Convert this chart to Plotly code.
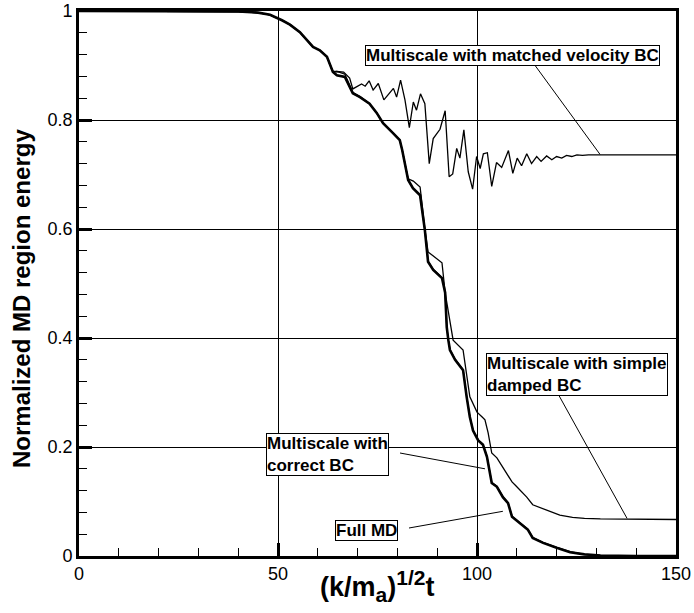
import plotly.graph_objects as go

# ---- data ----
t_full = [0, 20, 35, 40, 45, 48, 51, 53, 55.5, 57, 58.8, 60.5, 62.3, 63.8, 64.8, 66.8, 68.8, 70.6,
          73, 74.8, 76.4, 78.9, 80.6, 81.2, 82.7, 83.9, 85.7, 86.9, 87.7, 89.0, 91.2, 92.0, 92.4,
          92.8, 93.2, 94.5, 96.5, 97.4, 98.2, 99.0, 100.3, 101.5, 102.5, 103.7, 105.0, 106.5,
          107.8, 108.8, 110.8, 112.8, 114.0, 116.6, 120.0, 123.4, 127, 131, 140, 150]
v_full = [1.0, 1.0, 1.0, 0.999, 0.997, 0.993, 0.983, 0.975, 0.961, 0.948, 0.934, 0.928, 0.916,
          0.888, 0.882, 0.879, 0.849, 0.842, 0.830, 0.813, 0.794, 0.776, 0.763, 0.745, 0.690,
          0.675, 0.662, 0.598, 0.540, 0.525, 0.510, 0.483, 0.420, 0.396, 0.378, 0.360, 0.341,
          0.292, 0.255, 0.230, 0.212, 0.204, 0.182, 0.134, 0.127, 0.108, 0.097, 0.072, 0.060,
          0.048, 0.033, 0.024, 0.015, 0.007, 0.003, 0.001, 0.0, 0.0]

t_correct = [0, 20, 35, 40, 45, 48, 51, 53, 55.5, 57, 58.8, 60.5, 62.3, 63.8, 64.8, 66.8, 68.8, 70.6,
             73, 74.8, 76.4, 78.9, 80.6, 81.2, 82.7, 83.9, 85.7, 86.9, 87.7, 89.0, 91.2, 92.0, 92.4,
             92.8, 93.2, 94.5, 96.5, 97.4, 98.2, 99.0, 100.3, 101.5, 102.5, 103.7, 105.0, 106.5,
             107.8, 108.8, 110.8, 112.8, 114.0, 116.6, 120.0, 123.4, 127, 131, 140, 150]
v_correct = [1.0, 1.0, 1.0, 0.999, 0.997, 0.993, 0.983, 0.975, 0.961, 0.948, 0.934, 0.928, 0.916,
             0.888, 0.882, 0.879, 0.849, 0.842, 0.830, 0.813, 0.794, 0.776, 0.763, 0.745, 0.690,
             0.675, 0.662, 0.598, 0.541, 0.526, 0.511, 0.484, 0.421, 0.397, 0.379, 0.361, 0.342,
             0.293, 0.256, 0.231, 0.213, 0.205, 0.183, 0.135, 0.128, 0.109, 0.098, 0.073, 0.061,
             0.049, 0.034, 0.025, 0.016, 0.008, 0.003, 0.001, 0.0, 0.0]

t_damped = [0, 20, 35, 40, 45, 48, 51, 53, 55.5, 57, 58.8, 60.5, 62.3, 63.8, 64.8, 66.8, 68.8, 70.6,
            73, 74.8, 76.4, 78.9, 80.6, 81.2, 82.7, 84.0, 85.7, 86.9, 87.7, 91.2, 92.0, 94.0, 96.5,
            98.2, 100.0, 101.3, 102.0, 102.8, 103.7, 105.0, 107.0, 108.8, 110.0, 112.5, 114.0,
            117.5, 120.8, 124.0, 127.0, 131.0, 140.0, 150.0]
v_damped = [1.0, 1.0, 1.0, 0.999, 0.997, 0.993, 0.983, 0.975, 0.961, 0.948, 0.934, 0.928, 0.916,
            0.889, 0.889, 0.884, 0.851, 0.843, 0.830, 0.813, 0.794, 0.776, 0.763, 0.745, 0.692,
            0.688, 0.677, 0.600, 0.558, 0.538, 0.483, 0.396, 0.378, 0.292, 0.264, 0.255, 0.250,
            0.226, 0.189, 0.180, 0.158, 0.136, 0.127, 0.108, 0.094, 0.084, 0.075, 0.071, 0.069,
            0.068, 0.067, 0.067]

t_matched = [0, 20, 35, 40, 45, 48, 51, 53, 55.5, 57, 58.8, 60.5, 62.3, 63.8, 64.8, 66.5, 68.0, 68.8,
             69.8, 71.0, 71.9, 72.9, 73.9, 75.2, 76.6, 77.7, 79.0, 79.8, 80.8, 81.9, 83.0, 84.0,
             84.8, 85.8, 86.9, 88.0, 89.0, 90.7, 92.0, 93.0, 93.9, 94.9, 95.7, 96.7, 97.8, 98.9,
             99.9, 100.8, 101.6, 102.6, 103.7, 104.9, 106.2, 107.9, 109.0, 110.1, 111.2, 112.5,
             113.7, 115.0, 116.1, 117.5, 118.8, 120.0, 121.3, 122.5, 123.8, 125.1, 126.5, 128.0,
             150.0]
v_matched = [1.0, 1.0, 1.0, 0.999, 0.997, 0.993, 0.983, 0.975, 0.961, 0.948, 0.934, 0.928, 0.916,
             0.888, 0.889, 0.888, 0.877, 0.857, 0.861, 0.866, 0.862, 0.872, 0.855, 0.867, 0.837,
             0.846, 0.858, 0.842, 0.873, 0.837, 0.786, 0.833, 0.818, 0.848, 0.830, 0.720, 0.766,
             0.783, 0.817, 0.696, 0.701, 0.748, 0.730, 0.782, 0.705, 0.673, 0.733, 0.711, 0.738,
             0.740, 0.678, 0.722, 0.713, 0.744, 0.702, 0.730, 0.716, 0.738, 0.720, 0.733, 0.724,
             0.734, 0.727, 0.733, 0.730, 0.735, 0.733, 0.736, 0.735, 0.736, 0.736]

x_ticks = [0, 50, 100, 150]
y_ticks = [0, 0.2, 0.4, 0.6, 0.8, 1]

labels = ["Multiscale with matched velocity BC",
          "Multiscale with simple<br>damped BC",
          "Multiscale with<br>correct BC",
          "Full MD"]

# ---- figure ----
W, H = 694, 613
L, R, T, B = 79, 18, 11, 57
pw, ph = W - L - R, H - T - B
FONT = "Liberation Sans, Arial, Helvetica, sans-serif"


def dx(px):
    return (px - L) / pw * 150.0


def dy(py):
    return (T + ph - py) / ph * 1.0


fig = go.Figure()
thin = dict(color="black", width=1.3)
fig.add_trace(go.Scatter(x=t_matched, y=v_matched, mode="lines", line=thin, showlegend=False))
fig.add_trace(go.Scatter(x=t_damped, y=v_damped, mode="lines", line=thin, showlegend=False))
fig.add_trace(go.Scatter(x=t_correct, y=v_correct, mode="lines", line=thin, showlegend=False))
fig.add_trace(go.Scatter(x=t_full, y=v_full, mode="lines", line=dict(color="black", width=2.6),
                         showlegend=False))

# label boxes (left/top pixel positions) and leader lines (start px, end data)
boxes = [(365, 45), (486, 353), (266, 433), (335, 520)]
leaders = [((534, 64), (130.9, 0.737)),
           ((557, 392), (137.7, 0.069)),
           ((400, 453), (102.0, 0.16)),
           ((409, 528), (106.5, 0.082))]

lab_font = dict(family=FONT, size=17, color="black")
for text, (bx, by) in zip(labels, boxes):
    fig.add_annotation(x=dx(bx), y=dy(by), xref="x", yref="y", xanchor="left", yanchor="top",
                       text="<b>" + text + "</b>", showarrow=False, align="left",
                       font=lab_font, bgcolor="white", bordercolor="black", borderwidth=1,
                       borderpad=0)
for (sx, sy), (ex, ey) in leaders:
    fig.add_shape(type="line", x0=dx(sx), y0=dy(sy), x1=ex, y1=ey, xref="x", yref="y",
                  line=dict(color="black", width=1))

axis_common = dict(
    showline=True, linecolor="black", linewidth=2.6, mirror=True,
    ticks="inside", ticklen=13, tickwidth=2.5, tickcolor="black",
    showgrid=True, gridcolor="black", gridwidth=1, zeroline=False,
    tickfont=dict(family=FONT, size=18, color="black"),
)

fig.update_xaxes(range=[0, 150], tickvals=x_ticks, ticktext=[str(v) for v in x_ticks],
                 minor=dict(dtick=10, tick0=0, ticks="inside", ticklen=8, tickwidth=1,
                            tickcolor="black", showgrid=False),
                 **axis_common)
fig.update_yaxes(range=[0, 1], tickvals=y_ticks, ticktext=["0", "0.2", "0.4", "0.6", "0.8", "1"],
                 minor=dict(dtick=0.04, tick0=0, ticks="inside", ticklen=8, tickwidth=1,
                            tickcolor="black", showgrid=False),
                 **axis_common)

# axis titles
fig.add_annotation(x=(377 - L) / pw, y=(T + ph - 586) / ph, xref="paper", yref="paper",
                   xanchor="center", yanchor="middle", showarrow=False,
                   text="<b>(k/m<sub><span style='font-size:21px'>a</span></sub>)"
                        "<sup><span style='font-size:21px'>1/2</span></sup>t</b>",
                   font=dict(family=FONT, size=27, color="black"))
fig.add_annotation(x=(21 - L) / pw, y=(T + ph - 299) / ph, xref="paper", yref="paper",
                   xanchor="center", yanchor="middle", showarrow=False, textangle=-90,
                   text="<b>Normalized MD region energy</b>",
                   font=dict(family=FONT, size=24, color="black"))

fig.update_layout(width=W, height=H, margin=dict(l=L, r=R, t=T, b=B, autoexpand=False),
                  plot_bgcolor="white", paper_bgcolor="white")

fig.write_html("out.html")
